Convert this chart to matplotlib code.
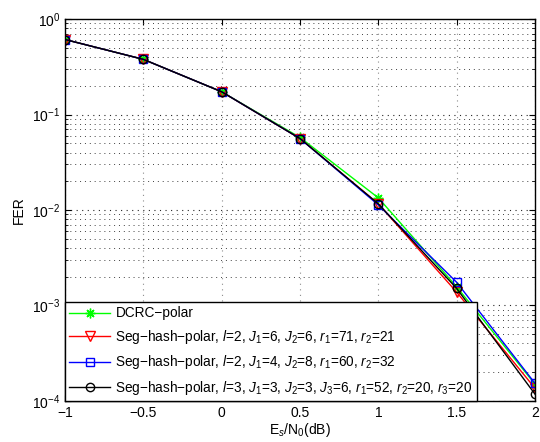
import matplotlib
matplotlib.use('Agg')
import matplotlib.pyplot as plt
import numpy as np

plt.rcParams['font.family'] = ['Liberation Sans', 'DejaVu Sans']
plt.rcParams['mathtext.fontset'] = 'custom'
plt.rcParams['mathtext.rm'] = 'Liberation Sans'
plt.rcParams['mathtext.it'] = 'Liberation Sans:italic'
plt.rcParams['font.size'] = 10

# Es/N0 (dB)
snr = [-1, -0.5, 0, 0.5, 1, 1.5, 2]

# FER values
fer_dcrc = [0.61, 0.378, 0.173, 0.0575, 0.0134, 0.00157, 1.50e-4]
fer_seg1 = [0.61, 0.378, 0.173, 0.0560, 0.0116, 0.00138, 1.36e-4]
fer_seg2 = [0.61, 0.378, 0.173, 0.0560, 0.0113, 0.00175, 1.53e-4]
fer_seg3 = [0.61, 0.378, 0.173, 0.0560, 0.0116, 0.00151, 1.18e-4]

M = '\u2212'
labels = [
    'DCRC' + M + 'polar',
    'Seg' + M + 'hash' + M + 'polar, $l$=2, $J_1$=6, $J_2$=6, $r_1$=71, $r_2$=21',
    'Seg' + M + 'hash' + M + 'polar, $l$=2, $J_1$=4, $J_2$=8, $r_1$=60, $r_2$=32',
    'Seg' + M + 'hash' + M + 'polar, $l$=3, $J_1$=3, $J_2$=3, $J_3$=6, $r_1$=52, $r_2$=20, $r_3$=20',
]

fig = plt.figure(figsize=(5.4, 4.42), dpi=100)
ax = fig.add_axes([0.1204, 0.0928, 0.8703, 0.8642])

# matlab style asterisk: plus and cross on top of each other
ax.semilogy(snr, fer_dcrc, color=(0, 1, 0), marker=(8, 2, 0), ms=7, mew=1, lw=1, label=labels[0])
ax.semilogy(snr, fer_seg1, color=(1, 0, 0), marker='v', ms=7, mfc='none', lw=1, label=labels[1])
ax.semilogy(snr, fer_seg2, color=(0, 0, 1), marker='s', ms=6, mfc='none', lw=1, label=labels[2])
ax.semilogy(snr, fer_seg3, color='k', marker='o', ms=6, mfc='none', lw=1, label=labels[3])

ax.set_xlim(-1, 2)
ax.set_ylim(1e-4, 1)
ax.set_xticks(np.arange(-1, 2.01, 0.5))
ax.set_xticklabels(['\u22121', '\u22120.5', '0', '0.5', '1', '1.5', '2'])
ax.tick_params(which='both', direction='in', top=True, right=True)
ax.tick_params(which='major', length=4)
ax.tick_params(which='minor', length=2)
ax.grid(True, which='major', axis='x', ls=(0, (1, 4)), color='0.55', lw=0.8)
ax.grid(True, which='major', axis='y', ls=(0, (1, 4)), color='0.15', lw=0.8)
ax.grid(True, which='minor', axis='y', ls=(0, (1, 4)), color='0.25', lw=0.7)
for s in ax.spines.values():
    s.set_linewidth(1)

ax.set_xlabel('E$_s$/N$_0$(dB)', labelpad=1)
ax.set_ylabel('FER', labelpad=4)

leg = ax.legend(loc='lower left', borderaxespad=0, fancybox=False, framealpha=1,
                edgecolor='k', handlelength=3.0, labelspacing=0.55, borderpad=0.3,
                handletextpad=0.4, fontsize=9.8)
leg.get_frame().set_linewidth(1)

fig.savefig('out.png', dpi=100)
